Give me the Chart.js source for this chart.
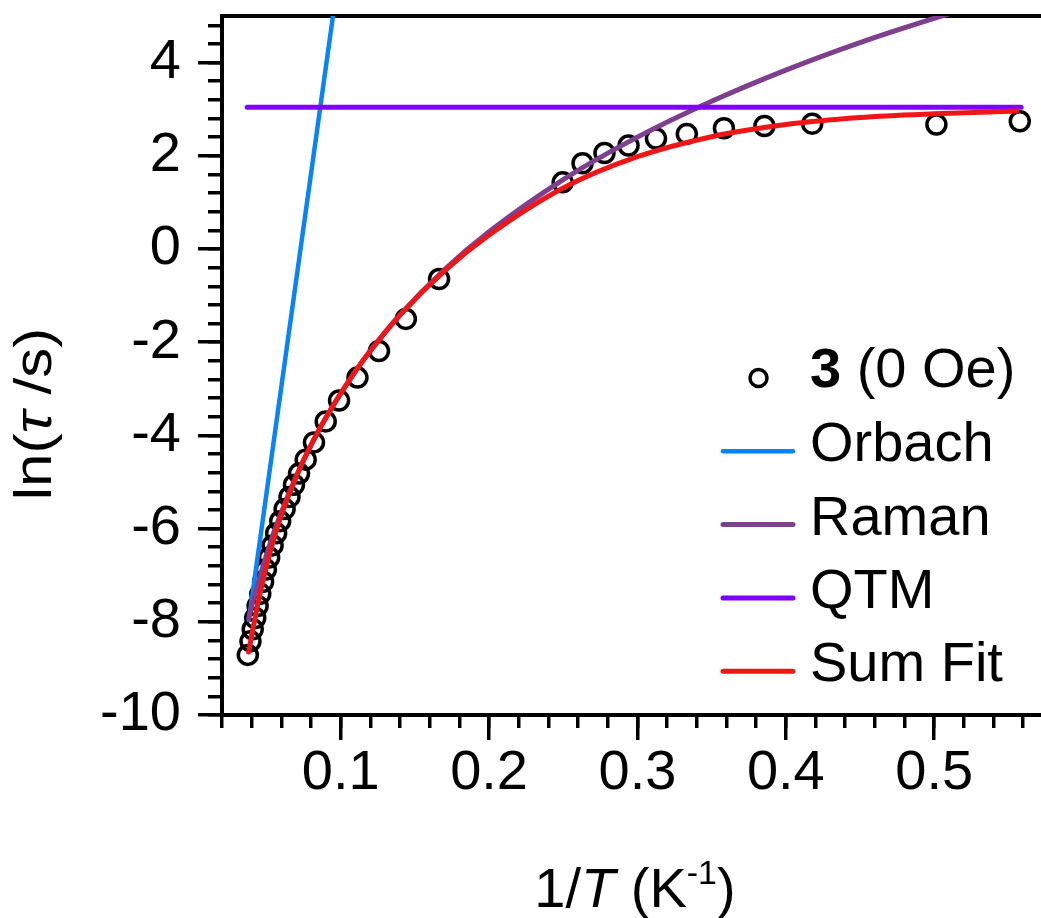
<!DOCTYPE html>
<html>
<head>
<meta charset="utf-8">
<script src="https://cdn.jsdelivr.net/npm/chart.js@4.4.0/dist/chart.umd.min.js"></script>
<style>
html,body{margin:0;padding:0;background:#ffffff;overflow:hidden;}
#c{display:block;width:1041px;height:918px;}
</style>
</head>
<body>
<canvas id="c" width="1041" height="918"></canvas>
<script>
// ---- measured data: 1/T (K^-1) and ln(tau/s) ----
const invT = [0.0374, 0.0392, 0.0407, 0.0424, 0.0440, 0.0458, 0.0477, 0.0496, 0.0518, 0.0541,
              0.0565, 0.0592, 0.0622, 0.0655, 0.0685, 0.0719, 0.0764, 0.0820, 0.0899, 0.0989,
              0.1113, 0.1258, 0.1439, 0.1663, 0.2496, 0.2630, 0.2778, 0.2940, 0.3125, 0.3333,
              0.3583, 0.3856, 0.4178, 0.5015, 0.5577];
const lnTau = [-8.71, -8.42, -8.16, -7.92, -7.66, -7.40, -7.14, -6.88, -6.62, -6.36,
               -6.10, -5.84, -5.58, -5.32, -5.06, -4.82, -4.52, -4.15, -3.70, -3.25,
               -2.76, -2.19, -1.50, -0.645, 1.43, 1.84, 2.06, 2.22, 2.37, 2.47,
               2.59, 2.64, 2.69, 2.67, 2.74];

// ---- fit curves ----
const orbachX = [0.0381, 0.0948];
const orbachY = [-7.96, 5.00];
const qtmX = [0.037, 0.5586];
const qtmY = [3.04, 3.04];
const fitX = [0.038, 0.040, 0.045, 0.050, 0.055, 0.060, 0.070, 0.080, 0.090, 0.110,
              0.120, 0.140, 0.170, 0.200, 0.250, 0.300, 0.350, 0.400, 0.450, 0.500, 0.5556];
const ramanY = [-7.93, -7.67, -7.09, -6.56, -6.08, -5.65, -4.88, -4.21, -3.62, -2.62,
                -2.18, -1.41, -0.44, 0.37, 1.49, 2.40, 3.17, 3.84, 4.43, 4.95, 5.48];
const sumFitY = [-8.65, -8.30, -7.49, -6.80, -6.21, -5.71, -4.89, -4.21, -3.62, -2.62,
                 -2.19, -1.42, -0.47, 0.30, 1.31, 1.98, 2.41, 2.67, 2.82, 2.90, 2.96];

// ---- axes ----
const xMajorTicks = [0.1, 0.2, 0.3, 0.4, 0.5];
const xTickLabels = ['0.1', '0.2', '0.3', '0.4', '0.5'];
const xMinorTicks = [0.02, 0.04, 0.06, 0.08, 0.10, 0.12, 0.14, 0.16, 0.18, 0.20, 0.22, 0.24, 0.26, 0.28,
                     0.30, 0.32, 0.34, 0.36, 0.38, 0.40, 0.42, 0.44, 0.46, 0.48, 0.50, 0.52, 0.54, 0.56];
const yMajorTicks = [-10, -8, -6, -4, -2, 0, 2, 4];
const yTickLabels = ['-10', '-8', '-6', '-4', '-2', '0', '2', '4'];
const yMinorTicks = [-10, -9.6, -9.2, -8.8, -8.4, -8, -7.6, -7.2, -6.8, -6.4, -6, -5.6, -5.2, -4.8, -4.4,
                     -4, -3.6, -3.2, -2.8, -2.4, -2, -1.6, -1.2, -0.8, -0.4, 0, 0.4, 0.8, 1.2, 1.6,
                     2, 2.4, 2.8, 3.2, 3.6, 4, 4.4, 4.8];
const xRange = [0.02, 0.572];
const yRange = [-10, 5];

const seriesNames = ['3 (0 Oe)', 'Orbach', 'Raman', 'QTM', 'Sum Fit'];
const seriesColors = ['#000000', '#0A84F5', '#7E3F8E', '#8000FF', '#EE1616'];

const FONT = '"Liberation Sans", Arial, Helvetica, sans-serif';
const pts = (xs, ys) => xs.map((x, i) => ({x: x, y: ys[i]}));

const tickGrid = (len) => ({
  display: true, drawOnChartArea: false, drawTicks: true,
  tickLength: len, tickWidth: 3.5, tickColor: '#000', lineWidth: 3.5, color: '#000'
});
const fixBox = (w, h) => (s) => {
  if (w !== null) s.width = w;
  if (h !== null) s.height = h;
  s.paddingLeft = 0; s.paddingRight = 0; s.paddingTop = 0; s.paddingBottom = 0;
};

const textPlugin = {
  id: 'texts',
  afterDraw(chart) {
    const ctx = chart.ctx;
    const drawRich = (parts, startX, baseY) => {
      let x = startX;
      for (const p of parts) {
        ctx.font = p.f;
        ctx.fillText(p.t, x, baseY + (p.dy || 0));
        x += ctx.measureText(p.t).width;
      }
    };
    const width = (parts) => parts.reduce((w, p) => { ctx.font = p.f; return w + ctx.measureText(p.t).width; }, 0);
    ctx.save();
    ctx.fillStyle = '#000';
    ctx.textBaseline = 'alphabetic';
    ctx.textAlign = 'left';
    // x title
    const xt = [
      {t: '1/', f: '56px ' + FONT},
      {t: 'T', f: 'italic 56px ' + FONT},
      {t: ' (K', f: '56px ' + FONT},
      {t: '-1', f: '34px ' + FONT, dy: -23},
      {t: ')', f: '56px ' + FONT}
    ];
    drawRich(xt, 635 - width(xt) / 2, 907);
    // y title
    const yt = [
      {t: 'ln(', f: '60px ' + FONT},
      {t: '\u03C4', f: 'italic 60px ' + FONT},
      {t: ' /s)', f: '60px ' + FONT}
    ];
    ctx.save();
    ctx.translate(51, 414);
    ctx.rotate(-Math.PI / 2);
    ctx.scale(1, 0.86);
    drawRich(yt, -width(yt) / 2, 0);
    ctx.restore();

    // legend
    const rowY0 = 378, rowGap = 73.3, symX1 = 723, symX2 = 793, textX = 810;
    chart.data.datasets.forEach((ds, i) => {
      const y = rowY0 + i * rowGap;
      if (i === 0) {
        ctx.beginPath();
        ctx.lineWidth = ds.borderWidth;
        ctx.strokeStyle = ds.borderColor;
        ctx.arc((symX1 + symX2) / 2 + 0.5, y, 8.5, 0, Math.PI * 2);
        ctx.stroke();
        drawRich([
          {t: '3', f: 'bold 56px ' + FONT},
          {t: ' (0 Oe)', f: '56px ' + FONT}
        ], textX, y + 9);
      } else {
        ctx.beginPath();
        ctx.lineCap = 'round';
        ctx.lineWidth = ds.borderWidth;
        ctx.strokeStyle = ds.borderColor;
        ctx.moveTo(symX1, y);
        ctx.lineTo(symX2, y);
        ctx.stroke();
        ctx.font = '56px ' + FONT;
        ctx.fillText(ds.label, textX, y + 10);
      }
    });
    ctx.restore();
  }
};

const lineDs = (label, data, color, order, width, smooth) => ({
  label: label, data: data, showLine: true, pointRadius: 0, pointHoverRadius: 0,
  borderColor: color, backgroundColor: color, borderWidth: width,
  borderCapStyle: 'round', borderJoinStyle: 'round',
  cubicInterpolationMode: smooth ? 'monotone' : 'default', tension: 0, order: order
});

new Chart(document.getElementById('c'), {
  type: 'scatter',
  data: {
    datasets: [
      {label: seriesNames[0], data: pts(invT, lnTau), pointStyle: 'circle', pointRadius: 9.5,
       pointHoverRadius: 9.5, borderColor: seriesColors[0], backgroundColor: 'rgba(0,0,0,0)',
       borderWidth: 3.5, order: 4},
      lineDs(seriesNames[1], pts(orbachX, orbachY), seriesColors[1], 3, 4.5, false),
      lineDs(seriesNames[2], pts(fitX, ramanY), seriesColors[2], 2, 5, true),
      lineDs(seriesNames[3], pts(qtmX, qtmY), seriesColors[3], 1, 5, false),
      lineDs(seriesNames[4], pts(fitX, sumFitY), seriesColors[4], 0, 5, true)
    ]
  },
  options: {
    responsive: false, maintainAspectRatio: false, animation: false, events: [],
    devicePixelRatio: 1,
    layout: {autoPadding: false, padding: {top: 16, right: 0, left: 0, bottom: 0}},
    plugins: {legend: {display: false}, tooltip: {enabled: false}},
    scales: {
      x: {
        type: 'linear', position: 'bottom', weight: 1, min: xRange[0], max: xRange[1],
        afterBuildTicks: (s) => { s.ticks = xMajorTicks.map(v => ({value: v})); },
        afterFit: fixBox(null, 203),
        ticks: {
          autoSkip: false, maxRotation: 0, color: '#000', padding: 0,
          font: {family: FONT, size: 56},
          callback: (v) => xTickLabels[xMajorTicks.indexOf(v)]
        },
        grid: tickGrid(25),
        border: {display: true, width: 4, color: '#000'}
      },
      xMinor: {
        type: 'linear', axis: 'x', position: 'bottom', weight: 0, min: xRange[0], max: xRange[1],
        afterBuildTicks: (s) => { s.ticks = xMinorTicks.map(v => ({value: v})); },
        afterFit: fixBox(null, 0),
        ticks: {display: false},
        grid: tickGrid(13),
        border: {display: false}
      },
      xTop: {
        type: 'linear', axis: 'x', position: 'top', min: xRange[0], max: xRange[1],
        afterFit: fixBox(null, 0),
        ticks: {display: false},
        grid: {display: false, drawTicks: false},
        border: {display: true, width: 4, color: '#000'}
      },
      y: {
        type: 'linear', position: 'left', weight: 1, min: yRange[0], max: yRange[1],
        afterBuildTicks: (s) => { s.ticks = yMajorTicks.map(v => ({value: v})); },
        afterFit: fixBox(222, null),
        ticks: {
          autoSkip: false, color: '#000', padding: 17,
          font: {family: FONT, size: 56},
          callback: (v) => yTickLabels[yMajorTicks.indexOf(v)]
        },
        grid: tickGrid(24),
        border: {display: true, width: 4, color: '#000'}
      },
      yMinor: {
        type: 'linear', axis: 'y', position: 'left', weight: 0, min: yRange[0], max: yRange[1],
        afterBuildTicks: (s) => { s.ticks = yMinorTicks.map(v => ({value: v})); },
        afterFit: fixBox(0, null),
        ticks: {display: false},
        grid: tickGrid(14),
        border: {display: false}
      }
    }
  },
  plugins: [textPlugin]
});
</script>
</body>
</html>
